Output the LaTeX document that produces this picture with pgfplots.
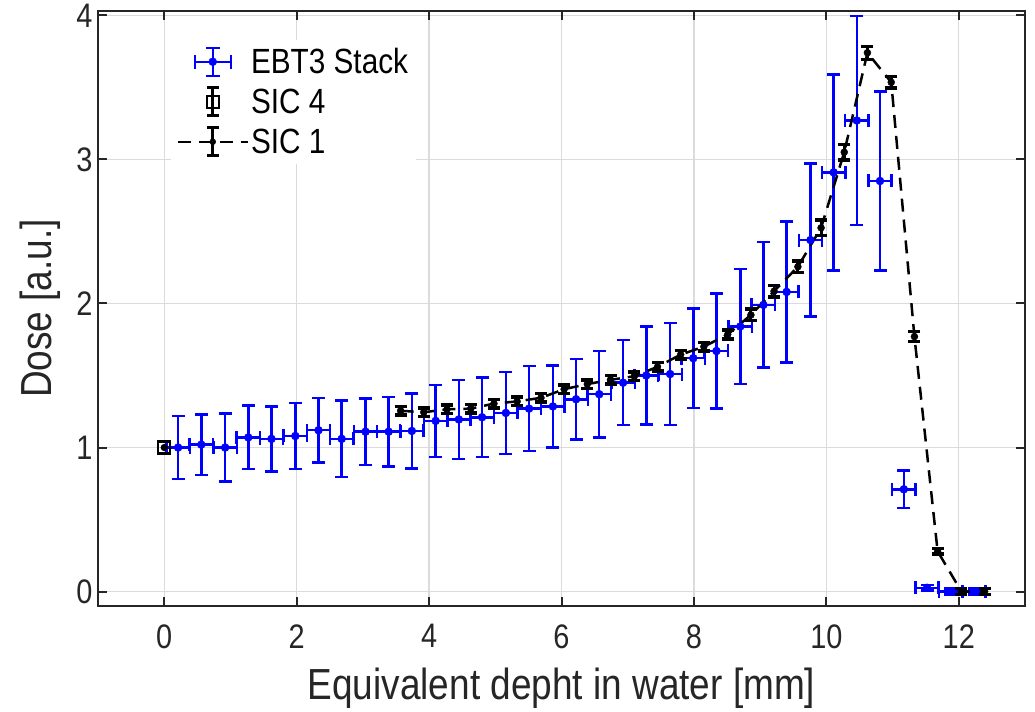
\documentclass[border=0pt]{standalone}
\usepackage{fontspec}
\setmainfont{Liberation Sans}[FakeStretch=0.85]
\usepackage{pgfplots}
\usepackage{pgfplotstable}
\usetikzlibrary{calc}
\pgfplotsset{compat=1.18}
\definecolor{axgray}{gray}{0.15}
\definecolor{gridgray}{gray}{0.86}

\pgfplotstableread{
x      y      ex    ey
0.21   1.00   0.177 0.22
0.56   1.02   0.177 0.21
0.92   1.00   0.177 0.235
1.27   1.07   0.177 0.22
1.62   1.06   0.177 0.225
1.98   1.08   0.177 0.23
2.33   1.12   0.177 0.225
2.68   1.06   0.177 0.265
3.04   1.11   0.177 0.23
3.39   1.11   0.177 0.24
3.74   1.115  0.177 0.26
4.10   1.185  0.177 0.25
4.45   1.195  0.177 0.275
4.80   1.21   0.177 0.275
5.16   1.24   0.177 0.285
5.51   1.27   0.177 0.295
5.87   1.285  0.177 0.285
6.22   1.335  0.177 0.28
6.57   1.37   0.177 0.30
6.93   1.45   0.177 0.295
7.28   1.50   0.177 0.34
7.64   1.51   0.177 0.355
7.99   1.62   0.177 0.345
8.34   1.67   0.177 0.40
8.70   1.84   0.177 0.40
9.05   1.99   0.177 0.435
9.40   2.08   0.177 0.49
9.76   2.44   0.177 0.53
10.11  2.91   0.177 0.68
10.46  3.27   0.177 0.725
10.81  2.85   0.177 0.62
11.17  0.71   0.177 0.13
11.52  0.026  0.177 0.02
11.88  0.0    0.177 0.02
12.23  0.0    0.177 0.02
}\ebt

\pgfplotstableread{
x      y      ey
3.57   1.255  0.03
3.92   1.245  0.03
4.27   1.265  0.03
4.63   1.27   0.03
4.98   1.305  0.03
5.33   1.32   0.03
5.69   1.345  0.03
6.04   1.405  0.03
6.39   1.44   0.03
6.74   1.47   0.03
7.10   1.495  0.03
7.45   1.56   0.03
7.80   1.645  0.03
8.15   1.70   0.03
8.51   1.785  0.03
8.86   1.92   0.04
9.21   2.085  0.04
9.57   2.255  0.04
9.92   2.525  0.055
10.27  3.05   0.055
10.62  3.74   0.045
10.98  3.535  0.04
11.33  1.77   0.035
11.68  0.28   0.02
12.04  0.0    0.02
12.39  0.0    0.02
}\sicone

\pgfplotstableread{
x   y    ey
0   1.0  0.02
}\sicfour

\begin{document}
\begin{tikzpicture}
\begin{axis}[
  name=main,
  scale only axis, width=927pt, height=595pt,
  xmin=-1, xmax=13, ymin=-0.1, ymax=4.03,
  xtick={0,2,...,12}, ytick={0,1,2,3,4},
  grid=major, major grid style={gridgray, line width=1.3pt},
  axis line style={axgray, line width=2pt},
  tick style={axgray, line width=2pt}, major tick length=9pt,
  tick align=inside, tick pos=both,
  ticklabel style={font=\fontsize{34}{40}\selectfont, text=axgray},
  xticklabel style={yshift=-15pt},
  yticklabel style={xshift=-2pt},
  /pgf/number format/assume math mode=true,
  xlabel={Equivalent depht in water [mm]},
  ylabel={Dose [a.u.]},
  xlabel style={at={(rel axis cs:0.5,0)}, anchor=base, yshift=-93pt, font=\fontsize{43.5}{48}\selectfont, text=axgray},
  ylabel style={at={(rel axis cs:0,0.5)}, anchor=base, yshift=46pt, font=\fontsize{43.5}{48}\selectfont, text=axgray},
  legend style={at={(rel axis cs:0.078,0.952)}, anchor=north west, draw=none, fill=white,
    inner sep=6pt, row sep=8pt, font=\fontsize{35}{40}\selectfont, text=black},
  legend cell align=left,
]
% ---------- EBT3 Stack
\addplot[blue, only marks, mark=none, line width=2.5pt, forget plot,
  error bars/.cd, x dir=both, x explicit, y dir=both, y explicit,
  error bar style={line width=2.5pt, blue}, error mark={}]
  table[x=x, y=y, x error=ex, y error=ey] {\ebt};
\addplot[blue, only marks, mark=-, mark size=6.5pt, mark options={line width=2.5pt}, forget plot]
  table[x=x, y expr=\thisrow{y}+\thisrow{ey}] {\ebt};
\addplot[blue, only marks, mark=-, mark size=6.5pt, mark options={line width=2.5pt}, forget plot]
  table[x=x, y expr=\thisrow{y}-\thisrow{ey}] {\ebt};
\addplot[blue, only marks, mark=|, mark size=6.5pt, mark options={line width=2.5pt}, forget plot]
  table[x expr=\thisrow{x}+\thisrow{ex}, y=y] {\ebt};
\addplot[blue, only marks, mark=|, mark size=6.5pt, mark options={line width=2.5pt}, forget plot]
  table[x expr=\thisrow{x}-\thisrow{ex}, y=y] {\ebt};
\addplot[blue, only marks, mark=*, mark size=4pt,
  legend image code/.code={
    \path[draw=none, fill=none] (0pt,-16pt) rectangle (70pt,16pt);
    \draw[blue, line width=2.5pt] (17pt,0pt) -- (53pt,0pt);
    \draw[blue, line width=2.5pt] (17pt,-7pt) -- (17pt,7pt);
    \draw[blue, line width=2.5pt] (53pt,-7pt) -- (53pt,7pt);
    \draw[blue, line width=2.5pt] (35pt,-14pt) -- (35pt,14pt);
    \draw[blue, line width=2.5pt] (28pt,-14pt) -- (42pt,-14pt);
    \draw[blue, line width=2.5pt] (28pt,14pt) -- (42pt,14pt);
    \fill[blue] (35pt,0pt) circle (4pt);
  }]
  table[x=x, y=y] {\ebt};
\addlegendentry{EBT3 Stack}

% ---------- SIC 4
\addplot[black, only marks, mark=none, line width=3pt, forget plot,
  error bars/.cd, y dir=both, y explicit,
  error bar style={line width=3pt, black}, error mark={}]
  table[x=x, y=y, y error=ey] {\sicfour};
\addplot[black, only marks, mark=square, mark size=6pt, mark options={line width=2.5pt},
  legend image code/.code={
    \path[draw=none, fill=none] (0pt,-16pt) rectangle (70pt,16pt);
    \draw[black, line width=3pt] (35pt,-14pt) -- (35pt,14pt);
    \draw[black, line width=3pt] (29pt,-14pt) -- (41pt,-14pt);
    \draw[black, line width=3pt] (29pt,14pt) -- (41pt,14pt);
    \draw[black, line width=2.5pt] (29pt,-6pt) rectangle (41pt,6pt);
  }]
  table[x=x, y=y] {\sicfour};
\addlegendentry{SIC 4}

% ---------- SIC 1
\addplot[black, line width=2.5pt, dash pattern=on 13pt off 8pt, forget plot]
  table[x=x, y=y] {\sicone};
\addplot[black, only marks, mark=none, forget plot,
  error bars/.cd, y dir=both, y explicit,
  error bar style={solid, line width=3pt, black}, error mark={}]
  table[x=x, y=y, y error=ey] {\sicone};
\addplot[black, only marks, mark=-, mark size=6pt, mark options={line width=3.5pt}, forget plot]
  table[x=x, y expr=\thisrow{y}+\thisrow{ey}] {\sicone};
\addplot[black, only marks, mark=-, mark size=6pt, mark options={line width=3.5pt}, forget plot]
  table[x=x, y expr=\thisrow{y}-\thisrow{ey}] {\sicone};
\addplot[black, only marks, mark=*, mark size=3.5pt,
  legend image code/.code={
    \path[draw=none, fill=none] (0pt,-16pt) rectangle (70pt,16pt);
    \draw[black, line width=2.5pt, dash pattern=on 13pt off 8pt] (0pt,0pt) -- (70pt,0pt);
    \draw[black, line width=3pt] (35pt,-14pt) -- (35pt,14pt);
    \draw[black, line width=3pt] (29pt,-14pt) -- (41pt,-14pt);
    \draw[black, line width=3pt] (29pt,14pt) -- (41pt,14pt);
    \fill[black] (35pt,0pt) circle (3pt);
  }]
  table[x=x, y=y] {\sicone};
\addlegendentry{SIC 1}
\end{axis}
\path (main.south west) ++(-98pt,-102pt) rectangle ($(main.north east)+(10pt,11pt)$);
\end{tikzpicture}
\end{document}
